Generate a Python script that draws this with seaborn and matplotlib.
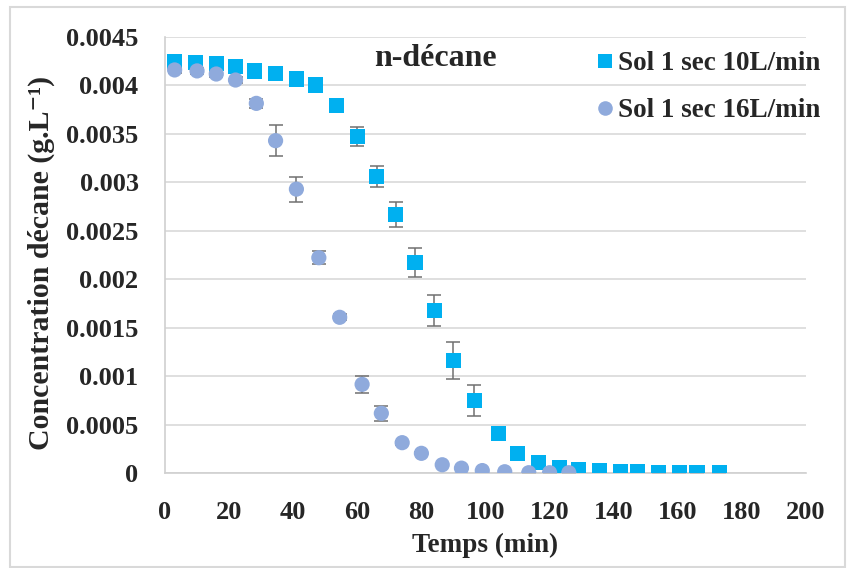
import numpy as np
import pandas as pd
import matplotlib.pyplot as plt
import seaborn as sns
from matplotlib.lines import Line2D
from matplotlib.patches import Rectangle

# data: time (min), concentration (g/L), error
t_10 = [3, 9.5, 16, 22, 28, 34.5, 41, 47, 53.5, 60, 66, 72, 78, 84, 90, 96.5,
        104, 110, 116.5, 123, 129, 135.5, 142, 147.5, 154, 160.5, 166, 173]
c_10 = [0.004245, 0.004234, 0.004228, 0.004193, 0.004149, 0.004125, 0.004066,
        0.004004, 0.00379, 0.00347, 0.003057, 0.00267, 0.00217, 0.001675,
        0.00116, 0.000746, 0.00041, 0.000205, 0.00011, 0.00006, 0.00004,
        0.000025, 0.00001, 0.00001, 0.000005, 0.000005, 0.000005, 0.000005]
e_10 = [0.00003, 0.00003, 0.00003, 0.00003, 0.00003, 0.00003, 0.00003, 0.00003,
        0.00004, 0.0001, 0.00011, 0.00013, 0.00015, 0.00016, 0.00019, 0.00016,
        0.00003, 0.00002, 0.00001, 0.00001, 0, 0, 0, 0, 0, 0, 0, 0]

t_16 = [3, 10, 16, 22, 28.5, 34.5, 41, 48, 54.5, 61.5, 67.5, 74, 80, 86.5,
        92.5, 99, 106, 113.5, 120, 126]
c_16 = [0.00416, 0.00415, 0.004118, 0.004056, 0.003815, 0.00343, 0.00293,
        0.002222, 0.001607, 0.000915, 0.000616, 0.000313, 0.000203, 0.000085,
        0.00005, 0.000025, 0.000013, 0.000003, 0.000003, 0.000003]
e_16 = [0.00003, 0.00003, 0.00003, 0.00003, 0.00005, 0.00016, 0.00013, 0.00007,
        0.00003, 0.00009, 0.00008, 0.00002, 0.00001, 0.00001, 0, 0, 0, 0, 0, 0]

labels = ['Sol 1 sec 10L/min', 'Sol 1 sec 16L/min']
colors = ['#00B0F0', '#8FAADC']
x_ticks = list(range(0, 201, 20))
y_ticks = [0, 0.0005, 0.001, 0.0015, 0.002, 0.0025, 0.003, 0.0035, 0.004, 0.0045]
y_tick_labels = ['0', '0.0005', '0.001', '0.0015', '0.002', '0.0025', '0.003',
                 '0.0035', '0.004', '0.0045']

df = pd.concat([
    pd.DataFrame({'t': t_10, 'c': c_10, 'e': e_10, 'serie': labels[0]}),
    pd.DataFrame({'t': t_16, 'c': c_16, 'e': e_16, 'serie': labels[1]}),
])

sns.set_style('white')
plt.rcParams['font.family'] = ['Liberation Serif', 'DejaVu Serif']
plt.rcParams['font.weight'] = 'bold'

fig = plt.figure(figsize=(8.47, 5.68), dpi=100)
ax = fig.add_axes([165 / 847, 1 - 473 / 568, (806 - 165) / 847, (473 - 37) / 568])

# error bars under the markers
for lab in labels:
    d = df[df['serie'] == lab]
    ax.errorbar(d['t'], d['c'], yerr=d['e'], fmt='none', ecolor='#707070',
                elinewidth=1.1, capsize=5, capthick=1.1, zorder=2)

markers = {labels[0]: 's', labels[1]: 'o'}
sns.scatterplot(data=df, x='t', y='c', hue='serie', style='serie',
                markers=markers, palette=dict(zip(labels, colors)),
                s=120, edgecolor='none', linewidth=0, ax=ax, zorder=3,
                legend=False)

ax.set_xlim(0, 200)
ax.set_ylim(0, 0.0045)
ax.set_xticks(x_ticks)
ax.set_yticks(y_ticks)
ax.set_yticklabels(y_tick_labels)
ax.tick_params(axis='both', length=0, labelsize=19)
ax.tick_params(axis='y', pad=19)
ax.tick_params(axis='x', pad=20)
ax.yaxis.grid(True, color='#d9d9d9', linewidth=1.2)
ax.set_axisbelow(True)
for side in ['top', 'right']:
    ax.spines[side].set_visible(False)
for side in ['left', 'bottom']:
    ax.spines[side].set_color('#d0d0d0')
    ax.spines[side].set_linewidth(1.2)

ax.set_xlabel('Temps (min)', fontsize=19.5, fontweight='bold')
ax.xaxis.set_label_coords(0.5, -(533 - 473) / 436)
ax.set_ylabel('Concentration décane (g.L\u207b\u00b9)', fontsize=21.5,
              fontweight='bold')
ax.yaxis.set_label_coords(-(165 - 55) / 641, (473 - 263) / 436)

fig.text(435 / 847, 1 - 58 / 568, 'n-décane', fontsize=23, fontweight='bold',
         ha='center', va='center')

handles = [
    Line2D([], [], linestyle='none', marker='s', markersize=10.5,
           markerfacecolor=colors[0], markeredgewidth=0),
    Line2D([], [], linestyle='none', marker='o', markersize=10.5,
           markerfacecolor=colors[1], markeredgewidth=0),
]
ax.legend(handles, labels, loc='upper left', bbox_to_anchor=(591 / 847, 1 - 51 / 568),
          bbox_transform=fig.transFigure, frameon=False, borderpad=0,
          borderaxespad=0, handlelength=1.0, handletextpad=0.0,
          labelspacing=0.83, prop={'size': 19.5, 'weight': 'bold'})

# chart area border
fig.patches.append(Rectangle((10 / 847, 1 - 567 / 568), (845 - 10) / 847,
                             (567 - 7) / 568, transform=fig.transFigure,
                             fill=False, edgecolor='#d9d9d9', linewidth=1.5))

fig.savefig('out.png', dpi=100)
